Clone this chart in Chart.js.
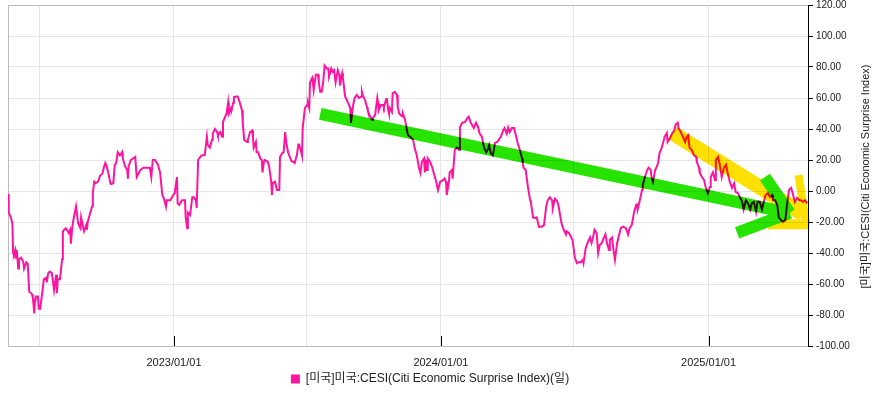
<!DOCTYPE html>
<html lang="ko">
<head>
  <meta charset="UTF-8">
  <title>CESI</title>
  <script src="https://cdn.jsdelivr.net/npm/chart.js"></script>
  <style>
    html, body { margin: 0; padding: 0; background: #fff; }
  </style>
</head>
<body>
  <canvas id="cesiChart" width="876" height="397"></canvas>

  <script>
    // x values are days counted from 2023-01-01
    const days = [
      -227,-226,-223,-221,-220,-219,-217,-216,-215,-213,-212,-209,-206,-205,-202,-200,-198,-195,-194,-193,
      -191,-190,-189,-186,-185,-183,-180,-178,-175,-174,-172,-170,-167,-164,-161,-160,-159,-156,-153,-152,
      -150,-148,-145,-144,-142,-141,-139,-137,-134,-133,-131,-130,-128,-127,-126,-124,-123,-120,-119,-118,
      -115,-112,-111,-109,-107,-104,-103,-101,-98,-96,-94,-93,-92,-90,-87,-86,-83,-81,-79,-77,
      -74,-72,-71,-70,-67,-64,-63,-62,-59,-56,-53,-51,-46,-42,-33,-31,-29,-26,-22,-19,
      -16,-14,-11,-10,-5,-1,1,4,5,7,11,12,15,16,18,19,22,25,27,30,
      31,33,36,38,42,45,46,49,52,53,56,59,60,63,66,67,70,72,74,75,
      78,79,81,82,85,87,90,93,94,96,100,101,104,107,108,109,112,113,115,118,
      120,121,123,124,128,130,133,134,135,138,141,144,145,148,150,152,153,154,156,159,
      161,163,165,168,170,171,174,175,176,179,182,183,185,186,189,190,191,194,197,198,
      200,202,204,206,209,211,212,215,217,219,221,224,226,227,230,231,234,236,238,241,
      242,245,247,250,253,256,257,258,261,264,265,268,271,272,275,278,279,280,283,286,
      287,290,291,293,294,295,298,299,302,305,306,308,312,313,316,319,320,323,327,329,
      332,335,337,339,342,343,345,346,347,350,353,355,358,361,364,368,370,372,373,376,
      377,380,381,384,387,390,391,394,398,401,403,406,410,413,416,418,421,424,427,429,
      431,433,436,439,442,444,447,450,452,455,457,459,462,465,468,470,473,476,477,478,
      481,484,487,488,491,494,496,499,503,506,509,511,514,517,518,521,524,526,530,533,
      536,537,540,543,545,548,551,554,556,559,560,563,566,569,571,573,575,578,580,582,
      585,588,590,592,595,596,599,601,603,606,608,611,614,618,621,623,626,629,632,633,
      634,637,640,641,644,647,649,652,653,655,658,660,662,664,667,668,671,674,675,678,
      681,684,686,689,690,693,696,699,701,703,705,708,711,714,715,718,719,722,725,727,
      730,733,734,737,740,741,744,746,749,752,755,757,760,763,766,768,771,774,777,779,
      782,785,788,790,793,796,798,801,804,807,809,812,815,818,819,822,825,827,830,833,
      836,838,841,844,846,849,852,855,857,860,863,866
    ];
    const cesi = [
      -2,-14,-17,-21,-40,-41,-38,-43,-38,-50,-44,-43,-46,-50,-46,-47,-65,-66,-67,-69,
      -79,-70,-68,-68,-76,-76,-65,-57,-56,-59,-53,-52,-53,-64,-54,-66,-57,-57,-44,-26,
      -25,-24,-26,-27,-25,-34,-23,-17,-10,-10,-21,-22,-24,-17,-17,-24,-26,-22,-25,-20,
      -15,-10,-1,6,5,6,7,10,11,15,18,18,16,12,5,4.5,5,17,18,25,
      23,24,25,21,16,13.5,8,16,20,21,22,9,13.5,15,15,9,20,20,17,12,
      -2.6,-4.5,-10,-6,-6,-2.6,-1.3,9,-8,-9,-6,-6,-6,-17,-24,-14,-15.5,-4,-4,-6,
      -11,20,22,23,23,35,30,28,33,37,40,38,36,38,35,44.5,48,50,57,50,
      53.5,53,57,60.6,61,61,57,52,44.5,33,31.6,33,38,39,35,28,31.6,25,25,21,
      20,12,19,20,19,16,6,-2.6,5,6,0.6,0.6,22,24.5,25,38,38,30,25,21,
      19,19,18,23,30,30,25,23,40.6,53.5,55.5,57,53.5,70,73,70,65,75,75,70,
      64,64,70,81,79,79,73.5,79,77,78,70,78,75,68,76,73,61,59,57,53.5,
      44,55.5,60,62,60,61,64,62,59,54,52,48,46,47,49,60,57,52,55.5,55.5,
      54,59,60,52,50,53.5,51,63,64,62,54,50,48,50,46,38,36,35,33,28,
      23,15,11.6,19,21,12,20,13.5,21,19,15.5,12,7,0.6,6,7,8,6,-2.6,6,
      12,13.5,8,26.5,28,26.5,41,44,44.5,47,48,44,40.6,44,41,37,35,28,25,26.5,
      29.7,24.5,23,31,31.6,33,35,39,40.6,37,41,38,40.6,40.6,35,31,26.5,21,18,15,
      13.5,2.6,-6,-7,-17,-17.4,-17,-23,-23,-22,-10,-6,-4,-6,-11,-5,-6.5,-10,-21,-25,
      -28,-26,-27,-29.7,-31.6,-42.6,-46.5,-45.8,-46,-44.5,-46.5,-36.8,-33,-30,-33.5,-30,-25,-27,-40,-35,
      -33.5,-30,-28,-33.5,-38,-31.6,-30,-38,-44.5,-33.5,-29.7,-24,-23,-24,-28,-24,-22,-14,-9,-8,
      -12,-6,0.6,4,9,13.5,15,13.5,9,6,13.5,15.5,18,24.5,28,29.7,35,37.4,31.6,34,
      37,39,43,44,40.6,38,35,31.6,35,36,28,26.5,23,22,18.7,15,11.6,9,7,2.6,
      -1.3,2.6,9,12,7,20,22,18,9,15,17,12,6,2,5,-0.6,-1.3,-4,-7,-12,
      -6,-8,-12,-8,-7,-13.5,-7,-7,-12,-6,-2.6,-1.3,-4,-2.6,-6,-6,-9,-17,-18.7,-20,
      -18.7,-10,0.6,2,-1.3,-7,-4.5,-6,-6,-7,-6,-8
    ];

    const xTickDays = [-184, 0, 181, 365, 547, 731];
    const xTickLabels = ['', '2023/01/01', '', '2024/01/01', '', '2025/01/01'];
    const seriesName = '[미국]미국:CESI(Citi Economic Surprise Index)(일)';
    const axisTitle = '[미국]미국:CESI(Citi Economic Surprise Index)';

    // hand drawn arrows, in data units [day, value]
    const greenArrow = [
      [[200, 49.7], [842, -14.2]],
      [[808, 9], [842, -14.2]],
      [[770, -27], [842, -14.2]]
    ];
    const yellowArrow = [
      [[682, 37.4], [860, -14.8], 15],
      [[854, 10.3], [864, -20], 8],
      [[812, -21.5], [869, -21.5], 10]
    ];

    const pink = '#ff14a0';
    const fontFamily = "'Liberation Sans', 'Noto Sans CJK KR', sans-serif";

    const whiteBg = {
      id: 'whiteBg',
      beforeDraw(chart) {
        const ctx = chart.ctx;
        ctx.save();
        ctx.fillStyle = '#fff';
        ctx.fillRect(0, 0, chart.width, chart.height);
        ctx.restore();
      }
    };

    const frame = {
      id: 'frame',
      beforeDatasetsDraw(chart) {
        const { ctx, chartArea: a, scales } = chart;
        ctx.save();
        ctx.strokeStyle = '#bcbcbc';
        ctx.lineWidth = 1;
        ctx.beginPath();
        ctx.moveTo(a.left + 0.5, a.bottom);
        ctx.lineTo(a.left + 0.5, a.top + 0.5);
        ctx.lineTo(a.right, a.top + 0.5);
        ctx.stroke();
        // year ticks drawn inside the plot
        ctx.strokeStyle = '#000';
        ctx.beginPath();
        xTickDays.forEach((d, i) => {
          if (!xTickLabels[i]) return;
          const x = Math.round(scales.x.getPixelForValue(d)) + 0.5;
          ctx.moveTo(x, a.bottom);
          ctx.lineTo(x, a.bottom - 10);
        });
        ctx.stroke();
        ctx.restore();
      }
    };

    const arrows = {
      id: 'arrows',
      afterDatasetsDraw(chart) {
        const { ctx, scales } = chart;
        const px = p => [scales.x.getPixelForValue(p[0]), scales.y.getPixelForValue(p[1])];
        const off = document.createElement('canvas');
        off.width = chart.width;
        off.height = chart.height;
        const o = off.getContext('2d');
        o.lineCap = 'butt';
        o.lineJoin = 'round';
        o.strokeStyle = '#ffe000';
        yellowArrow.forEach(seg => {
          const a = px(seg[0]), b = px(seg[1]);
          o.lineWidth = seg[2];
          o.beginPath();
          o.moveTo(a[0], a[1]);
          o.lineTo(b[0], b[1]);
          o.stroke();
        });
        o.strokeStyle = '#26e400';
        o.lineWidth = 12;
        greenArrow.forEach(seg => {
          const a = px(seg[0]), b = px(seg[1]);
          o.beginPath();
          o.moveTo(a[0], a[1]);
          o.lineTo(b[0], b[1]);
          o.stroke();
        });
        ctx.save();
        ctx.globalCompositeOperation = 'multiply';
        ctx.drawImage(off, 0, 0);
        ctx.restore();
      }
    };

    const sideTitle = {
      id: 'sideTitle',
      afterDraw(chart) {
        const { ctx, chartArea: a } = chart;
        ctx.save();
        ctx.translate(chart.width - 10, (a.top + a.bottom) / 2 + 1);
        ctx.rotate(-Math.PI / 2);
        ctx.font = '11px ' + fontFamily;
        ctx.fillStyle = '#222';
        ctx.textAlign = 'center';
        ctx.textBaseline = 'middle';
        ctx.fillText(axisTitle, 0, 0);
        ctx.restore();
      }
    };

    new Chart(document.getElementById('cesiChart'), {
      type: 'line',
      data: {
        datasets: [{
          label: seriesName,
          data: days.map((d, i) => ({ x: d, y: cesi[i] })),
          borderColor: pink,
          backgroundColor: pink,
          borderWidth: 2,
          pointRadius: 0,
          tension: 0,
          fill: false
        }]
      },
      options: {
        responsive: false,
        animation: false,
        devicePixelRatio: 1,
        layout: { autoPadding: false, padding: { left: 8, top: 5, right: 24, bottom: 2 } },
        scales: {
          x: {
            type: 'linear',
            min: -227,
            max: 867,
            afterBuildTicks: s => { s.ticks = xTickDays.map(v => ({ value: v })); },
            afterFit: s => { s.height = 22; s.paddingLeft = 0; s.paddingRight = 0; },
            ticks: {
              autoSkip: false,
              maxRotation: 0,
              padding: 10,
              color: '#222',
              font: { family: fontFamily, size: 11 },
              callback: v => xTickLabels[xTickDays.indexOf(v)] || ''
            },
            grid: { color: '#e6e6e6', drawTicks: false },
            border: { color: '#bcbcbc' }
          },
          y: {
            position: 'right',
            min: -100,
            max: 120,
            afterFit: s => { s.width = 44; s.paddingTop = 0; s.paddingBottom = 0; },
            ticks: {
              stepSize: 20,
              padding: 3,
              color: '#222',
              font: { family: fontFamily, size: 10 },
              callback: v => v.toFixed(2)
            },
            grid: { color: '#e6e6e6', tickColor: '#000', tickLength: 5 },
            border: { color: '#000' }
          }
        },
        plugins: {
          legend: {
            position: 'bottom',
            labels: {
              boxWidth: 9,
              boxHeight: 9,
              padding: 5,
              color: '#222',
              font: { family: fontFamily, size: 12 },
              generateLabels: chart => Chart.defaults.plugins.legend.labels.generateLabels(chart)
                .map(l => Object.assign(l, { lineWidth: 0 }))
            }
          },
          tooltip: { enabled: false }
        }
      },
      plugins: [whiteBg, frame, arrows, sideTitle]
    });
  </script>
</body>
</html>
